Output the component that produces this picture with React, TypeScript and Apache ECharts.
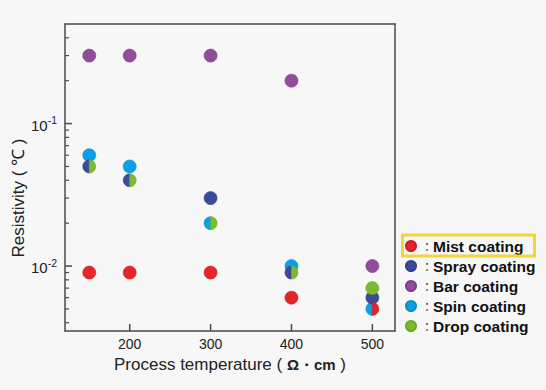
import React, { useEffect, useRef } from 'react';
import * as echarts from 'echarts';

const temperatures = [150, 200, 300, 400, 500];
const seriesNames = ['Mist coating', 'Spray coating', 'Bar coating', 'Spin coating', 'Drop coating'];
const mist = [0.009, 0.009, 0.009, 0.006, 0.005];
const spray = [0.05, 0.04, 0.03, 0.009, 0.006];
const bar = [0.3, 0.3, 0.3, 0.2, 0.01];
const spin = [0.06, 0.05, 0.02, 0.01, 0.005];
const drop = [0.05, 0.04, 0.02, 0.009, 0.007];
const xTicks = [200, 300, 400, 500];
const yMajorTicks = [0.01, 0.1];
const yMinorTicks = [
  0.004, 0.005, 0.006, 0.007, 0.008, 0.009,
  0.02, 0.03, 0.04, 0.05, 0.06, 0.07, 0.08, 0.09,
  0.2, 0.3, 0.4,
];
const X_MIN = 120;
const X_MAX = 528;
const Y_MIN = 0.0035;
const Y_MAX = 0.5;

const colors: Record<string, string> = {
  'Mist coating': '#e4262b',
  'Spray coating': '#3b4b9b',
  'Bar coating': '#924c9c',
  'Spin coating': '#0aa0e4',
  'Drop coating': '#7fb92f',
};
const borders: Record<string, string> = {
  'Mist coating': '#c91e23',
  'Spray coating': '#33418a',
  'Bar coating': '#7e3f88',
  'Spin coating': '#0a8fcc',
  'Drop coating': '#70a828',
};
const valuesByName: Record<string, number[]> = {
  'Mist coating': mist,
  'Spray coating': spray,
  'Bar coating': bar,
  'Spin coating': spin,
  'Drop coating': drop,
};
const drawOrder = ['Bar coating', 'Spin coating', 'Spray coating', 'Mist coating', 'Drop coating'];
const leftPreferred = ['Spray coating', 'Spin coating'];

const SIZE = 13;
const LEFT_HALF = 'path://M10,0 A10,10 0 0 0 10,20 Z';
const RIGHT_HALF = 'path://M0,0 A10,10 0 0 1 0,20 Z';
const AXIS_COLOR = '#4a4a4a';

function buildSeries() {
  const scatter = seriesNames.map((name) => {
    const vals = valuesByName[name];
    const data = vals.map((v, i) => {
      const shared = seriesNames.some((o) => o !== name && valuesByName[o][i] === v);
      if (!shared) return { value: [temperatures[i], v] };
      const left = leftPreferred.includes(name);
      return {
        value: [temperatures[i], v],
        symbol: left ? LEFT_HALF : RIGHT_HALF,
        symbolSize: [SIZE / 2, SIZE],
        symbolOffset: [left ? -SIZE / 4 : SIZE / 4, 0],
      };
    });
    return {
      name,
      type: 'scatter',
      symbol: 'circle',
      symbolSize: SIZE,
      z: 3 + drawOrder.indexOf(name),
      itemStyle: { color: colors[name], borderColor: borders[name], borderWidth: 0.6, opacity: 1 },
      data,
    };
  });
  // tick marks: [x, y, kind] ; kind 0 = x tick, 1 = major y tick, 2 = minor y tick
  const tickData: number[][] = [
    ...xTicks.map((x) => [x, Y_MIN, 0]),
    ...yMajorTicks.map((y) => [X_MIN, y, 1]),
    ...yMinorTicks.map((y) => [X_MIN, y, 2]),
  ];
  const ticks = {
    type: 'custom',
    clip: false,
    data: tickData,
    renderItem: (_params: any, api: any) => {
      const p = api.coord([api.value(0), api.value(1)]);
      const kind = api.value(2);
      let shape;
      if (kind === 0) shape = { x1: p[0], y1: p[1], x2: p[0], y2: p[1] - 7 };
      else if (kind === 1) shape = { x1: p[0], y1: p[1], x2: p[0] + 7, y2: p[1] };
      else shape = { x1: p[0], y1: p[1], x2: p[0] + 4, y2: p[1] };
      return {
        type: 'line',
        shape,
        style: { stroke: AXIS_COLOR, lineWidth: kind === 2 ? 1.2 : 1.5 },
      };
    },
  };
  return [ticks, ...scatter];
}

export default function App() {
  const ref = useRef<HTMLDivElement>(null);
  useEffect(() => {
    if (!ref.current) return;
    const chart = echarts.init(ref.current, undefined, { renderer: 'svg' });
    const font = '"Liberation Sans", Arial, Helvetica, sans-serif';
    const frameAxis = {
      axisLine: { show: true, lineStyle: { color: AXIS_COLOR, width: 1.5 } },
      axisTick: { show: false },
      axisLabel: { show: false },
      splitLine: { show: false },
    };
    chart.setOption({
      animation: false,
      backgroundColor: '#f7f7f7',
      grid: { left: 65, right: 151, top: 24, bottom: 59 },
      xAxis: [
        {
          type: 'value',
          min: X_MIN,
          max: X_MAX,
          name: 'Process temperature ( {b|Ω・cm} )',
          nameLocation: 'middle',
          nameGap: 22,
          nameTextStyle: {
            fontFamily: font, fontSize: 17, color: '#222',
            rich: { b: { fontFamily: font, fontSize: 15, fontWeight: 'bold', color: '#222' } },
          },
          axisLine: { show: true, lineStyle: { color: AXIS_COLOR, width: 1.5 } },
          axisTick: { show: false },
          axisLabel: { customValues: xTicks, fontFamily: font, fontSize: 14, color: '#222', margin: 6 },
          splitLine: { show: false },
        },
        { type: 'value', min: X_MIN, max: X_MAX, position: 'top', ...frameAxis },
      ],
      yAxis: [
        {
          type: 'log',
          min: Y_MIN,
          max: Y_MAX,
          axisLine: { show: true, lineStyle: { color: AXIS_COLOR, width: 1.5 } },
          axisTick: { show: false },
          axisLabel: {
            customValues: yMajorTicks,
            margin: 8,
            formatter: (v: number) => `{b|10}{s|${Math.round(Math.log10(v))}}`,
            rich: {
              b: { fontFamily: font, fontSize: 15, color: '#222', lineHeight: 18, verticalAlign: 'bottom' },
              s: { fontFamily: font, fontSize: 10.5, color: '#222', lineHeight: 18, verticalAlign: 'top' },
            },
          },
          splitLine: { show: false },
        },
        { type: 'log', min: Y_MIN, max: Y_MAX, position: 'right', ...frameAxis },
      ],
      legend: {
        orient: 'vertical',
        left: 405,
        top: 238,
        padding: 0,
        itemGap: 4,
        itemWidth: 10,
        itemHeight: 10,
        icon: 'circle',
        formatter: (name: string) => `{c|：}{n|${name}}`,
        textStyle: {
          lineHeight: 16,
          rich: {
            c: { fontFamily: '"Noto Sans CJK JP", sans-serif', fontSize: 12, color: '#333', lineHeight: 16, width: 12 },
            n: { fontFamily: font, fontSize: 15.5, fontWeight: 'bold', color: '#111', lineHeight: 16 },
          },
        },
      },
      graphic: [
        {
          type: 'text',
          x: 18,
          y: 198,
          rotation: Math.PI / 2,
          style: {
            text: 'Resistivity ( ℃ )',
            fontFamily: font,
            fontSize: 17,
            fill: '#222',
            align: 'center',
            verticalAlign: 'middle',
          },
        },
        {
          type: 'rect',
          shape: { x: 402.5, y: 235, width: 132, height: 21 },
          style: { fill: 'none', stroke: '#f5d43a', lineWidth: 3 },
          z: 10,
        },
      ],
      series: buildSeries(),
    });
    return () => chart.dispose();
  }, []);
  return <div ref={ref} style={{ position: 'fixed', left: 0, top: 0, width: 546, height: 390 }} />;
}
